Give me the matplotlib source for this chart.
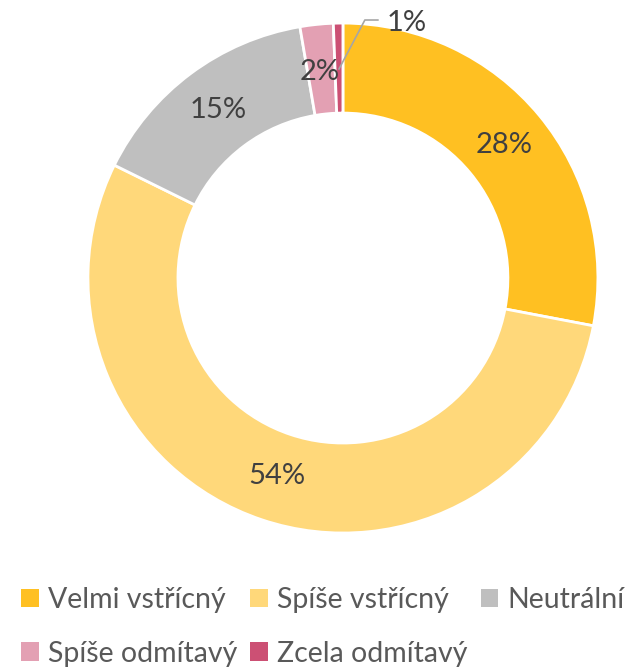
import matplotlib.pyplot as plt
import numpy as np

plt.rcParams['font.family'] = ['Lato', 'DejaVu Sans']

# data
categories = ['Velmi vstřícný', 'Spíše vstřícný', 'Neutrální', 'Spíše odmítavý', 'Zcela odmítavý']
values = [28.0, 54.3, 15.0, 2.1, 0.6]
colors = ['#FFC022', '#FFD87A', '#BFBFBF', '#E3A0B3', '#CC5074']

fig = plt.figure(figsize=(6.41, 6.67), dpi=100)
ax = fig.add_axes([0, 0, 1, 1])

wedges, _, autotexts = ax.pie(
    values, colors=colors, startangle=90, counterclock=False, radius=1,
    wedgeprops=dict(width=0.353, edgecolor='white', linewidth=2),
    autopct=lambda p: '{:.0f}%'.format(p), pctdistance=0.82,
    textprops=dict(fontsize=21, color='#404040'))

# small slice label pulled outside with a leader line
last = autotexts[-1]
theta = np.deg2rad((wedges[-1].theta1 + wedges[-1].theta2) / 2)
start = (0.82 * np.cos(theta), 0.82 * np.sin(theta))
elbow = (0.086, 1.012)
end = (0.137, 1.012)
ax.plot([start[0], elbow[0], end[0]], [start[1], elbow[1], end[1]],
        color='#A6A6A6', lw=1.2)
last.set_position((0.25, 1.0))
autotexts[-2].set_position((-0.09, 0.81))

ax.set_xlim(-1.345, 1.169)
ax.set_ylim(-1.525, 1.090)
ax.set_aspect('equal')
ax.axis('off')

# legend: column-major order so rows read left to right
order = [0, 3, 1, 4, 2]
leg = ax.legend([wedges[i] for i in order], [categories[i] for i in order],
                ncol=3, loc='upper left', bbox_to_anchor=(0.015, 0.137),
                frameon=False, fontsize=20.5, handlelength=0.62, handleheight=0.62,
                handletextpad=0.33, columnspacing=0.45, labelspacing=0.97,
                borderaxespad=0)
for t in leg.get_texts():
    t.set_color('#595959')
for h in leg.legend_handles:
    h.set_edgecolor('none')

fig.savefig('out.png', dpi=100)
